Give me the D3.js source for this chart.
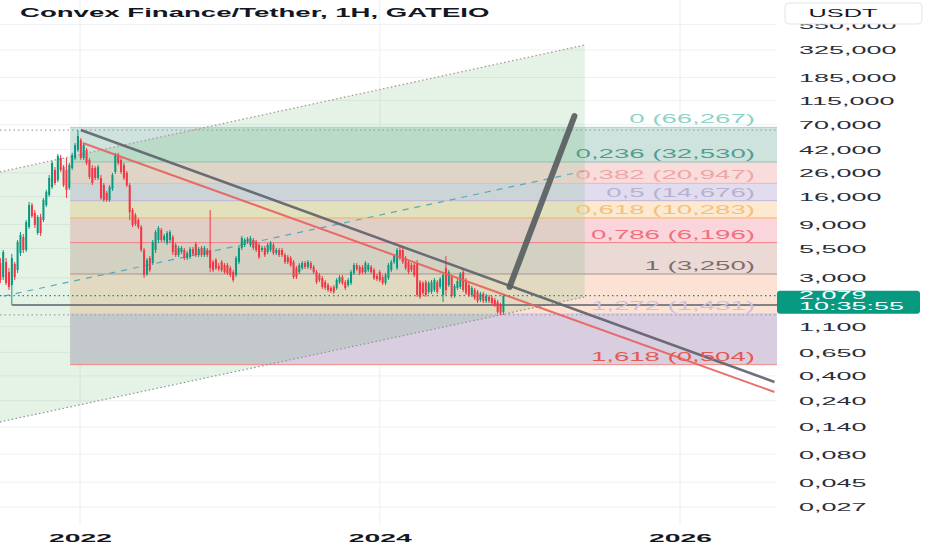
<!DOCTYPE html>
<html>
<head>
<meta charset="utf-8">
<script src="https://cdn.jsdelivr.net/npm/d3@7"></script>
<style>
html, body { margin: 0; padding: 0; background: #fff; }
svg { display: block; font-family: "Liberation Sans", Arial, sans-serif; }
</style>
</head>
<body>
<svg id="chart" width="932" height="550"></svg>
<script>
// chart text
const title = "Convex Finance/Tether, 1H, GATEIO";
const quote = "USDT";
const countdown = "10:35:55";
const lastPrice = 2.079;

// weekly candles, first bar date
const firstBar = "2021-06-21";
const opens = [4.07,3.05,4.16,3.38,2.59,3.99,3.53,5.00,6.96,5.32,
  8.54,13.4,11.4,7.55,10.5,9.86,13.4,16.5,19.4,27.6,
  22.4,35.3,29.3,27.6,19.1,28.7,35.3,41.6,51.1,35.3,
  41.6,33.9,28.7,28.7,23.4,23.4,20.2,17.2,14.9,18.7,
  26.5,37.5,33.9,30.5,26.0,20.2,12.1,10.9,9.86,
  8.54,5.32,3.25,4.51,4.07,5.32,6.54,8.03,
  6.54,6.15,6.54,6.96,5.90,4.80,5.11,5.32,4.51,4.61,
  5.43,6.02,4.80,5.55,4.80,5.32,5.32,4.16,4.33,3.83,
  4.16,3.91,3.91,3.67,3.38,3.18,4.16,5.55,5.90,6.28,
  5.90,6.54,6.28,5.90,5.32,5.55,5.11,5.32,5.90,5.00,
  5.32,5.32,4.80,4.61,4.51,4.16,3.67,3.38,3.67,4.07,
  3.75,4.07,3.75,3.38,3.18,2.99,2.75,2.59,2.44,2.49,
  2.44,2.75,3.05,2.75,2.59,2.70,3.32,3.91,3.75,3.75,
  3.38,3.53,3.75,3.53,3.12,3.38,3.05,2.70,2.99,3.53,
  4.16,3.67,5.32,5.32,4.51,4.16,3.91,3.91,
  4.07,2.75,2.70,2.75,2.25,2.25,2.34,2.75,2.49,2.11,
  3.67,2.59,3.05,2.07,2.44,2.49,3.38,2.87,2.59,2.11,
  2.34,2.25,1.91,2.16,1.87,2.03,1.99,1.91,1.83,1.72,1.49];
const highs = [4.51,5.32,4.51,3.67,4.90,4.16,6.54,7.71,7.40,9.86,
  14.3,14.0,12.1,10.9,11.2,15.5,18.3,24.9,33.2,29.3,
  38.3,37.5,30.5,35.3,31.9,39.2,48.0,62.7,53.2,48.0,
  43.4,35.3,30.5,29.9,30.5,24.9,21.1,17.9,20.2,26.0,
  39.2,39.2,35.3,31.9,27.0,21.1,12.6,11.4,10.3,
  8.90,5.55,4.51,4.70,6.54,8.03,8.72,8.37,
  7.40,7.87,8.03,7.25,6.15,5.78,5.78,5.55,5.21,5.66,
  5.66,6.28,5.66,5.78,5.78,5.55,12.1,4.33,4.51,4.07,
  4.33,4.07,4.07,3.83,3.53,4.70,5.78,7.10,6.81,6.96,
  7.10,6.81,6.54,6.15,5.78,5.78,6.15,6.41,6.15,5.55,
  5.55,5.55,5.00,4.80,4.70,4.33,3.83,4.07,4.24,4.24,
  4.33,4.24,3.91,3.53,3.32,3.12,2.87,2.70,2.54,2.59,
  2.99,3.18,3.18,2.87,2.99,3.53,4.07,4.07,3.91,3.91,
  4.24,4.07,3.91,3.67,3.25,3.53,3.18,3.32,4.07,4.33,
  4.90,5.55,5.66,5.55,4.70,4.33,4.07,4.07,
  4.33,2.87,2.81,2.87,2.81,2.87,2.99,2.87,3.05,3.32,
  4.70,3.53,3.18,2.64,2.93,3.38,3.67,2.99,2.70,2.54,
  2.44,2.34,2.25,2.25,2.16,2.11,2.07,1.99,1.91,1.79,2.11];
const lows = [2.70,2.87,2.59,2.34,1.72,2.87,3.32,4.70,5.00,5.11,
  8.20,10.3,8.37,7.25,7.10,9.47,12.9,15.9,18.7,20.2,
  21.5,26.5,19.4,15.5,18.3,27.6,33.9,40.0,33.9,33.9,
  30.5,22.9,20.2,22.4,22.4,14.9,14.3,14.3,14.3,17.9,
  25.4,30.5,25.4,22.4,19.4,9.86,8.54,8.72,8.20,
  5.11,2.99,3.12,3.38,3.91,5.00,6.15,6.28,
  6.28,5.90,6.15,4.80,4.61,4.61,4.90,4.33,4.33,4.42,
  4.70,4.61,4.61,4.61,4.61,4.61,3.38,3.38,3.53,3.45,
  3.38,3.25,3.18,3.05,2.75,3.05,3.99,5.32,5.66,6.02,
  5.66,5.32,5.11,4.42,5.11,4.61,4.90,5.11,4.80,4.80,
  4.61,4.61,3.99,3.99,3.75,2.93,2.93,3.25,3.53,3.60,
  3.60,3.53,3.25,2.64,2.75,2.39,2.34,2.25,2.20,2.16,
  2.34,2.64,2.59,2.34,2.49,2.59,3.18,3.45,3.18,3.25,
  3.25,3.38,3.25,2.87,2.81,2.75,2.59,2.59,2.87,3.38,
  3.99,3.53,4.33,3.99,3.53,3.25,3.38,3.05,
  2.03,1.95,2.11,2.03,2.16,2.16,2.25,2.16,2.39,1.83,
  2.11,2.49,1.99,1.99,2.34,2.39,2.25,2.11,2.03,2.03,
  1.91,1.79,1.83,1.79,1.79,1.79,1.72,1.65,1.43,1.40,1.40];
const closes = [2.87,5.11,2.70,2.49,4.51,3.05,6.28,7.25,5.32,9.47,
  13.4,10.7,8.90,10.5,7.55,14.9,17.6,23.4,31.9,21.1,
  36.8,27.6,20.2,18.3,30.5,37.5,46.1,55.4,35.3,46.1,
  31.9,23.9,21.1,23.4,29.3,15.5,14.9,14.9,19.4,24.9,
  37.5,31.9,26.5,23.4,20.2,11.6,8.90,9.08,8.54,
  5.32,3.18,4.33,3.53,6.28,7.71,8.37,6.54,
  7.10,7.55,7.71,5.11,4.80,5.55,5.55,4.51,5.00,5.43,
  4.90,4.80,5.43,4.80,5.55,4.80,3.67,3.53,3.67,3.60,
  3.53,3.38,3.32,3.18,2.87,4.51,5.55,6.81,6.54,6.68,
  6.81,5.55,5.32,4.61,5.55,4.80,5.90,6.15,5.00,5.32,
  4.80,4.80,4.16,4.16,3.91,3.05,3.05,3.91,4.07,3.75,
  4.16,3.67,3.38,2.75,2.87,2.49,2.44,2.34,2.29,2.25,
  2.87,3.05,2.70,2.44,2.87,3.38,3.91,3.60,3.32,3.38,
  4.07,3.91,3.38,2.99,2.93,2.87,2.70,3.18,3.91,4.16,
  4.70,5.32,4.51,4.16,3.67,3.38,3.53,3.18,
  2.11,2.03,2.20,2.11,2.70,2.75,2.87,2.25,2.93,3.18,
  2.34,3.38,2.07,2.54,2.81,3.25,2.34,2.20,2.11,2.44,
  1.99,1.87,2.16,1.87,2.07,1.87,1.79,1.72,1.49,1.46,2.079];

// axes
const priceTicks = [550,325,185,115,70,42,26,16,9,5.5,3,1.1,0.65,0.4,0.24,0.14,0.08,0.045,0.027];
const yearTicks = [2022,2024,2026];

// fib retracement (levels and prices as labelled)
const fibStart = "2021-12-08";
const fibLevels = [0,0.236,0.382,0.5,0.618,0.786,1,1.272,1.618];
const fibPrices = [66.267,32.53,20.947,14.676,10.283,6.196,3.25,1.431,0.504];

// drawings: [date, price]
const channelUpper = [["2021-06-01",25.6],["2025-05-14",360]];
const channelLower = [["2021-06-01",0.150],["2025-05-14",2.03]];
const darkTrend = [["2022-01-03",62.7],["2026-08-19",0.353]];
const redTrend = [["2022-01-08",48.0],["2026-08-19",0.287]];
const arrowLine = [["2024-11-12",2.49],["2025-04-19",83.7]];
const athLevel = 62.7;
const supportLevel = 1.72;
const supportFrom = "2021-07-19";
const recentLow = 1.40;

// styles
const fibBandColors = ["#cfe3de","#f9dcdc","#e2dcef","#fde9d0","#fbd5dc","#ebd9d6","#fce2d4","#d9cde0"];
const fibLineColors = ["#a3d8cc","#86c4b3","#f1b4b4","#bdb5d8","#f5b560","#ee7f88","#a8958f","#d2c6ea","#ef8a82"];
const fibTextColors = ["#8dd4c6","#4f9e90","#f0a6a6","#b8b2cf","#f3c07e","#ef6f7e","#7c6e6b","#c8c2e2","#e6594f"];
const up = "#089981", down = "#f23645";

const svg = d3.select("#chart");
const plotR = 777, plotB = 525;
const parse = d3.utcParse("%Y-%m-%d");

const x = d3.scaleUtc()
  .domain([Date.UTC(2022,0,1), Date.UTC(2026,0,1)])
  .range([80, 680]);
const y = d3.scaleLog().domain([0.027, 325]).range([507, 50]);

const loc = d3.formatLocale({decimal: ",", thousands: " ", grouping: [3], currency: ["", ""]});
const fmtPrice = loc.format(".3f");
const fmtLevel = loc.format("");

svg.append("rect").attr("width", 932).attr("height", 550).attr("fill", "#fff");

svg.append("clipPath").attr("id", "plot")
  .append("rect").attr("x", 0).attr("y", 0).attr("width", plotR).attr("height", plotB);

const plot = svg.append("g").attr("clip-path", "url(#plot)");

// grid
plot.append("g").selectAll("line").data(priceTicks).join("line")
  .attr("x1", 0).attr("x2", plotR)
  .attr("y1", d => y(d)).attr("y2", d => y(d))
  .attr("stroke", "#eef0f4").attr("stroke-width", 1);
plot.append("g").selectAll("line").data(yearTicks).join("line")
  .attr("x1", d => x(Date.UTC(d,0,1))).attr("x2", d => x(Date.UTC(d,0,1)))
  .attr("y1", 0).attr("y2", plotB)
  .attr("stroke", "#eceef2").attr("stroke-width", 1);

// fib bands
const fx = x(parse(fibStart));
const bands = d3.range(fibPrices.length - 1);
plot.append("g").selectAll("rect").data(bands).join("rect")
  .attr("x", fx).attr("width", plotR - fx)
  .attr("y", i => y(fibPrices[i]))
  .attr("height", i => y(fibPrices[i + 1]) - y(fibPrices[i]))
  .attr("fill", i => fibBandColors[i]);

// channel fill
const pt = d => [x(parse(d[0])), y(d[1])];
const chanPoly = [pt(channelUpper[0]), pt(channelUpper[1]), pt(channelLower[1]), pt(channelLower[0])];
plot.append("polygon")
  .attr("points", chanPoly.map(p => p.join(",")).join(" "))
  .attr("fill", "rgba(76,175,80,0.15)");

// fib lines
plot.append("g").selectAll("line").data(fibPrices).join("line")
  .attr("x1", fx).attr("x2", plotR)
  .attr("y1", d => y(d)).attr("y2", d => y(d))
  .attr("stroke", (d, i) => fibLineColors[i]).attr("stroke-width", 1);

// channel lines
const line = d3.line().x(d => d[0]).y(d => d[1]);
plot.append("path").attr("d", line(channelUpper.map(pt)))
  .attr("fill", "none").attr("stroke", "#b39595").attr("stroke-width", 1.3)
  .attr("stroke-dasharray", "1.5 2.5");
plot.append("path").attr("d", line(channelLower.map(pt)))
  .attr("fill", "none").attr("stroke", "#8f929b").attr("stroke-width", 1.2)
  .attr("stroke-dasharray", "1.5 2.5");
const midLine = [0, 1].map(k => [channelUpper[k][0], Math.sqrt(channelUpper[k][1] * channelLower[k][1])]);
plot.append("path").attr("d", line(midLine.map(pt)))
  .attr("fill", "none").attr("stroke", "#57a9bd").attr("stroke-width", 1.2)
  .attr("stroke-dasharray", "6 6");

// horizontal levels
plot.append("line").attr("x1", 0).attr("x2", plotR)
  .attr("y1", y(athLevel)).attr("y2", y(athLevel))
  .attr("stroke", "#9ea1a8").attr("stroke-width", 1.2).attr("stroke-dasharray", "1.5 3");
plot.append("line").attr("x1", 0).attr("x2", plotR)
  .attr("y1", y(recentLow)).attr("y2", y(recentLow))
  .attr("stroke", "#9ea1a8").attr("stroke-width", 1.2).attr("stroke-dasharray", "1.5 3");
plot.append("line").attr("x1", x(parse(supportFrom))).attr("x2", plotR)
  .attr("y1", y(supportLevel)).attr("y2", y(supportLevel))
  .attr("stroke", "#5d606b").attr("stroke-width", 1.5);

// candles
const start = parse(firstBar);
const bars = closes.map((c, i) => ({
  t: d3.utcDay.offset(start, 7 * i), o: opens[i], h: highs[i], l: lows[i], c: c
}));
const cg = plot.append("g").selectAll("g").data(bars).join("g");
cg.append("line")
  .attr("x1", d => x(d.t)).attr("x2", d => x(d.t))
  .attr("y1", d => y(d.h)).attr("y2", d => y(d.l))
  .attr("stroke", d => d.c >= d.o ? up : down).attr("stroke-width", 1);
cg.append("rect")
  .attr("x", d => x(d.t) - 1).attr("width", 2)
  .attr("y", d => y(Math.max(d.o, d.c)))
  .attr("height", d => Math.max(1, Math.abs(y(d.o) - y(d.c))))
  .attr("fill", d => d.c >= d.o ? up : down);

// trend lines
plot.append("path").attr("d", line(darkTrend.map(pt)))
  .attr("fill", "none").attr("stroke", "#5d606b").attr("stroke-width", 2.5).attr("opacity", 0.9);
plot.append("path").attr("d", line(redTrend.map(pt)))
  .attr("fill", "none").attr("stroke", "#e8605c").attr("stroke-width", 2).attr("opacity", 0.9);
plot.append("path").attr("d", line(arrowLine.map(pt)))
  .attr("fill", "none").attr("stroke", "#595e62").attr("stroke-width", 6)
  .attr("stroke-linecap", "round").attr("opacity", 0.92);

// current price line
plot.append("line").attr("x1", 0).attr("x2", plotR)
  .attr("y1", y(lastPrice)).attr("y2", y(lastPrice))
  .attr("stroke", up).attr("stroke-width", 1.2).attr("stroke-dasharray", "1.5 3");

// fib labels
plot.append("g").selectAll("text").data(fibPrices).join("text")
  .attr("transform", d => `translate(755,${y(d) - 4}) scale(2.3,1)`)
  .attr("text-anchor", "end")
  .attr("font-size", 12)
  .attr("fill", (d, i) => fibTextColors[i])
  .text((d, i) => `${fmtLevel(fibLevels[i])} (${fmtPrice(d)})`);

// right axis
const ga = svg.append("g").attr("transform", "translate(799,0)")
  .call(d3.axisRight(y).tickValues(priceTicks).tickFormat(fmtPrice).tickSize(0).tickPadding(0));
ga.select(".domain").remove();
ga.selectAll("text")
  .attr("x", 0).attr("dy", "0.36em")
  .attr("transform", "scale(2.45,1)")
  .attr("fill", "#2a2e39")
  .attr("font-size", 11)
  .attr("font-family", "Liberation Sans, Arial, sans-serif");

// bottom axis
const gx = svg.append("g").attr("transform", "translate(0,535)")
  .call(d3.axisBottom(x).tickValues(yearTicks.map(d => Date.UTC(d,0,1)))
    .tickFormat(d3.utcFormat("%Y")).tickSize(0).tickPadding(0));
gx.select(".domain").remove();
gx.selectAll("text")
  .attr("y", 0).attr("dy", "0.71em")
  .attr("transform", "scale(2.7,1)")
  .attr("fill", "#131722")
  .attr("font-weight", "bold")
  .attr("font-size", 10.5)
  .attr("font-family", "Liberation Sans, Arial, sans-serif");

// last price label
const ly = y(lastPrice);
svg.append("rect").attr("x", 777).attr("y", ly - 5).attr("width", 143).attr("height", 23)
  .attr("rx", 3).attr("fill", up);
svg.append("text").attr("transform", `translate(799,${ly + 3.5}) scale(2.45,1)`)
  .attr("font-size", 11).attr("fill", "#fff").text(fmtPrice(lastPrice));
svg.append("text").attr("transform", `translate(799,${ly + 14.5}) scale(2.45,1)`)
  .attr("font-size", 11).attr("fill", "#fff").text(countdown);

// currency badge
svg.append("rect").attr("x", 785).attr("y", 3).attr("width", 137).attr("height", 21)
  .attr("rx", 4).attr("fill", "#fff").attr("stroke", "#e0e3eb");
svg.append("text").attr("transform", "translate(843,17) scale(2.3,1)")
  .attr("text-anchor", "middle").attr("font-size", 11).attr("fill", "#131722").text(quote);

// title
svg.append("text").attr("transform", "translate(20,17) scale(2.3,1)")
  .attr("font-size", 12).attr("font-weight", "bold").attr("fill", "#131722").text(title);
</script>
</body>
</html>
